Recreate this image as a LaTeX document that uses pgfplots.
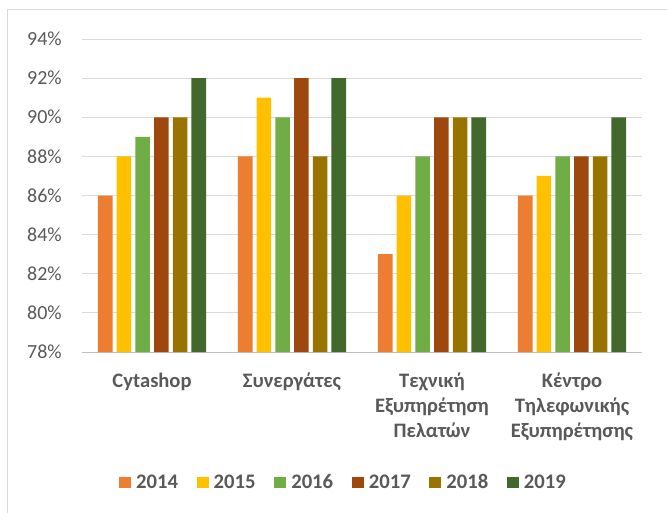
\documentclass[border=0pt]{standalone}
\usepackage{fontspec}
\setmainfont{Carlito}
\usepackage{pgfplots}
\pgfplotsset{compat=1.18}
\definecolor{cA}{HTML}{ED7D31}
\definecolor{cB}{HTML}{FFC000}
\definecolor{cC}{HTML}{70AD47}
\definecolor{cD}{HTML}{9E480E}
\definecolor{cE}{HTML}{997300}
\definecolor{cF}{HTML}{43682B}
\definecolor{txt}{HTML}{595959}
\definecolor{gridc}{HTML}{D9D9D9}
\definecolor{axc}{HTML}{BFBFBF}
\begin{document}
\begin{tikzpicture}
\useasboundingbox (-61.5pt,-120pt) rectangle (438.75pt,264pt);
\draw[gridc, line width=0.75pt] (-55.5pt,-200pt) rectangle (500pt,257.25pt);
\begin{axis}[
  scale only axis, width=420pt, height=234.75pt,
  ybar, bar width=0.1043,
  xmin=-0.5, xmax=3.5, ymin=78, ymax=94,
  ytick={78,80,...,94},
  yticklabel={\pgfmathparse{int(\tick)}\pgfmathresult\%},
  yticklabel style={font=\fontsize{15}{18}\selectfont, text=txt, anchor=east, inner sep=0pt, xshift=-15pt},
  xtick={0,1,2,3},
  xticklabels={{\strut Cytashop},{\strut Συνεργάτες},{\strut Τεχνική\\Εξυπηρέτηση\\Πελατών},{\strut Κέντρο\\Τηλεφωνικής\\Εξυπηρέτησης}},
  xticklabel style={font=\fontsize{15.4}{18.75}\selectfont\bfseries, text=txt, align=center, anchor=north, inner sep=0pt, yshift=-13.15pt},
  major tick length=0pt,
  tick style={draw=none},
  axis x line*=bottom, axis y line*=left,
  y axis line style={draw=none},
  x axis line style={draw=axc, line width=0.75pt, -},
  ymajorgrids, grid style={gridc, line width=0.75pt},
  every axis plot post/.append style={draw=none},
  legend image code/.code={\fill[#1] (0pt,-4.4pt) rectangle (9pt,4.4pt);},
  legend columns=6,
  legend style={draw=none, fill=none, at={(0.4652,-0.417)}, anchor=center,
    font=\fontsize{15.5}{18}\selectfont\bfseries, text=txt, inner sep=0pt,
    nodes={inner sep=0pt},
    /tikz/every even column/.append style={column sep=14pt},
    /tikz/every odd column/.append style={column sep=3.75pt}},
]
\addplot[fill=cA, bar shift=-0.334] coordinates {(0,86) (1,88) (2,83) (3,86)};
\addplot[fill=cB, bar shift=-0.2004] coordinates {(0,88) (1,91) (2,86) (3,87)};
\addplot[fill=cC, bar shift=-0.0668] coordinates {(0,89) (1,90) (2,88) (3,88)};
\addplot[fill=cD, bar shift=0.0668] coordinates {(0,90) (1,92) (2,90) (3,88)};
\addplot[fill=cE, bar shift=0.2004] coordinates {(0,90) (1,88) (2,90) (3,88)};
\addplot[fill=cF, bar shift=0.334] coordinates {(0,92) (1,92) (2,90) (3,90)};
\legend{2014,2015,2016,2017,2018,2019}
\end{axis}
\end{tikzpicture}
\end{document}
